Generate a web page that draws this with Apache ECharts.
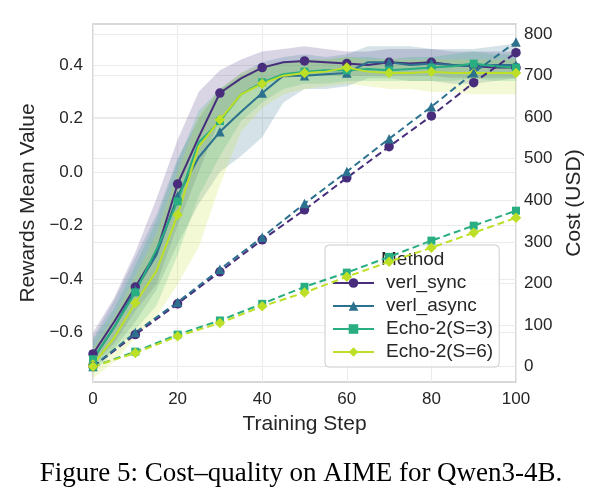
<!DOCTYPE html>
<html>
<head>
<meta charset="utf-8">
<script src="https://cdn.jsdelivr.net/npm/echarts@6/dist/echarts.min.js"></script>
<style>
html, body { margin: 0; padding: 0; background: #fff; }
#chart { width: 602px; height: 503px; }
</style>
</head>
<body>
<div id="chart"></div>
<script>
// training steps for reward curves (every 5 steps), cost points every 10
var steps = [0, 5, 10, 15, 20, 25, 30, 35, 40, 45, 50, 55, 60, 65, 70, 75, 80, 85, 90, 95, 100];
var costSteps = [0, 10, 20, 30, 40, 50, 60, 70, 80, 90, 100];
var methods = ['verl_sync', 'verl_async', 'Echo-2(S=3)', 'Echo-2(S=6)'];
var colors = ['#472d7b', '#2c718e', '#28ae80', '#bddf26'];
var symbols = ['circle', 'triangle', 'rect', 'diamond'];

// rewards mean value
var syncReward  = [-0.68, -0.56, -0.43, -0.30, -0.045, 0.13, 0.295, 0.35, 0.39, 0.41, 0.415, 0.41, 0.405, 0.40, 0.41, 0.405, 0.41, 0.40, 0.395, 0.39, 0.39];
var asyncReward = [-0.70, -0.58, -0.44, -0.31, -0.09, 0.055, 0.15, 0.225, 0.295, 0.36, 0.36, 0.365, 0.37, 0.41, 0.41, 0.40, 0.405, 0.40, 0.395, 0.40, 0.40];
var echo3Reward = [-0.70, -0.58, -0.45, -0.29, -0.11, 0.11, 0.19, 0.29, 0.335, 0.365, 0.375, 0.38, 0.38, 0.385, 0.38, 0.385, 0.39, 0.395, 0.405, 0.395, 0.39];
var echo6Reward = [-0.72, -0.62, -0.49, -0.37, -0.16, 0.095, 0.195, 0.29, 0.33, 0.36, 0.37, 0.375, 0.39, 0.375, 0.37, 0.37, 0.375, 0.37, 0.37, 0.37, 0.37];

// shaded band edges
var syncLow   = [-0.72, -0.64, -0.52, -0.42, -0.20, 0.00, 0.20, 0.29, 0.33, 0.35, 0.36, 0.36, 0.36, 0.36, 0.36, 0.36, 0.36, 0.35, 0.35, 0.35, 0.35];
var syncHigh  = [-0.60, -0.47, -0.30, -0.10, 0.12, 0.30, 0.38, 0.42, 0.45, 0.46, 0.47, 0.46, 0.45, 0.45, 0.46, 0.46, 0.46, 0.45, 0.45, 0.45, 0.45];
var asyncLow  = [-0.74, -0.66, -0.56, -0.44, -0.27, -0.12, 0.00, 0.06, 0.13, 0.26, 0.31, 0.31, 0.32, 0.35, 0.35, 0.34, 0.34, 0.33, 0.33, 0.34, 0.35];
var asyncHigh = [-0.62, -0.48, -0.32, -0.16, 0.05, 0.20, 0.31, 0.37, 0.41, 0.43, 0.44, 0.43, 0.44, 0.47, 0.47, 0.47, 0.46, 0.46, 0.46, 0.47, 0.48];
var echo3Low  = [-0.75, -0.67, -0.59, -0.50, -0.31, -0.09, 0.06, 0.19, 0.26, 0.31, 0.33, 0.33, 0.34, 0.34, 0.34, 0.34, 0.34, 0.34, 0.35, 0.34, 0.34];
var echo3High = [-0.63, -0.51, -0.35, -0.18, 0.04, 0.23, 0.31, 0.36, 0.39, 0.41, 0.42, 0.42, 0.43, 0.43, 0.42, 0.43, 0.43, 0.44, 0.45, 0.44, 0.44];
var echo6Low  = [-0.77, -0.71, -0.62, -0.54, -0.42, -0.28, -0.05, 0.15, 0.24, 0.29, 0.31, 0.32, 0.33, 0.32, 0.31, 0.31, 0.30, 0.30, 0.29, 0.29, 0.29];
var echo6High = [-0.66, -0.54, -0.39, -0.23, 0.00, 0.21, 0.31, 0.37, 0.40, 0.41, 0.42, 0.42, 0.43, 0.42, 0.42, 0.42, 0.42, 0.42, 0.42, 0.42, 0.42];

// cost (USD)
var syncCost  = [0, 77, 151, 228, 305, 377, 454, 529, 603, 683, 755];
var asyncCost = [0, 82, 155, 234, 311, 392, 469, 548, 625, 707, 781];
var echo3Cost = [0, 36, 77, 111, 151, 192, 226, 264, 303, 339, 375];
var echo6Cost = [0, 33, 73, 105, 145, 178, 216, 252, 286, 322, 358];

var leftTicks = [-0.6, -0.4, -0.2, 0.0, 0.2, 0.4];
var rightTicks = [0, 100, 200, 300, 400, 500, 600, 700, 800];
var xTicks = [0, 20, 40, 60, 80, 100];

var rewards = [syncReward, asyncReward, echo3Reward, echo6Reward];
var lows = [syncLow, asyncLow, echo3Low, echo6Low];
var highs = [syncHigh, asyncHigh, echo3High, echo6High];
var costs = [syncCost, asyncCost, echo3Cost, echo6Cost];

var font = 'Liberation Sans, Arial, sans-serif';
var tickColor = '#262626';

function pairs(xs, ys) {
  return xs.map(function (x, i) { return [x, ys[i]]; });
}
function markSize(k) {
  return symbols[k] === 'rect' ? 8 : (symbols[k] === 'diamond' ? 10.5 : 9.5);
}

var series = [];
methods.forEach(function (name, k) {
  // shaded band
  series.push({
    type: 'custom',
    name: name + ' band',
    clip: true,
    silent: true,
    z: 2,
    data: [[0, 0]],
    renderItem: function (params, api) {
      var pts = [];
      steps.forEach(function (s, i) { pts.push(api.coord([s, highs[k][i]])); });
      for (var i = steps.length - 1; i >= 0; i--) pts.push(api.coord([steps[i], lows[k][i]]));
      return { type: 'polygon', shape: { points: pts }, style: { fill: colors[k], opacity: 0.2 } };
    }
  });
});
methods.forEach(function (name, k) {
  series.push({
    type: 'line',
    name: name,
    yAxisIndex: 0,
    z: 3,
    data: pairs(steps, rewards[k]),
    symbol: symbols[k],
    showAllSymbol: true,
    symbolSize: function (v, p) { return p.dataIndex % 2 === 0 ? markSize(k) : 0; },
    lineStyle: { color: colors[k], width: 2 },
    itemStyle: { color: colors[k] },
    emphasis: { disabled: true }
  });
  series.push({
    type: 'line',
    name: name + ' cost',
    yAxisIndex: 1,
    z: 4,
    data: pairs(costSteps, costs[k]),
    symbol: symbols[k],
    symbolSize: markSize(k),
    lineStyle: { color: colors[k], width: 2, type: [7, 4] },
    itemStyle: { color: colors[k] },
    emphasis: { disabled: true }
  });
});

var chart = echarts.init(document.getElementById('chart'));
chart.setOption({
  animation: false,
  backgroundColor: '#fff',
  title: {
    text: 'Figure 5: Cost\u2013quality on AIME for Qwen3-4B.',
    left: 'center',
    top: 455,
    textStyle: { fontFamily: 'Liberation Serif, Times New Roman, serif', fontSize: 27, fontWeight: 'normal', color: '#000' }
  },
  grid: {
    left: 93, right: 86, top: 24, bottom: 121,
    show: true, borderColor: '#cccccc', borderWidth: 1.5, backgroundColor: 'transparent'
  },
  legend: {
    data: methods,
    orient: 'vertical',
    left: 325,
    top: 245,
    z: 1,
    selectedMode: false,
    padding: [28, 6, 5, 7],
    itemWidth: 41,
    itemHeight: 12,
    itemGap: 3,
    backgroundColor: 'rgba(255,255,255,0.8)',
    borderColor: '#cccccc',
    borderWidth: 1,
    borderRadius: 4,
    textStyle: { fontFamily: font, fontSize: 19, color: tickColor, lineHeight: 20, padding: [0, 0, 0, 7] }
  },
  graphic: [{
    type: 'text',
    left: 381,
    top: 250,
    z: 1,
    style: { text: 'Method', font: '19px ' + font, fill: tickColor }
  }],
  xAxis: {
    type: 'value',
    min: 0,
    max: 100,
    name: 'Training Step',
    nameLocation: 'middle',
    nameGap: 32,
    nameTextStyle: { fontFamily: font, fontSize: 21, color: tickColor },
    axisLine: { show: false },
    axisTick: { show: false, customValues: xTicks },
    axisLabel: { customValues: xTicks, fontFamily: font, fontSize: 17, color: tickColor, margin: 9 },
    splitLine: { show: true, lineStyle: { color: '#ebebeb', width: 1 } }
  },
  yAxis: [{
    type: 'value',
    min: -0.785,
    max: 0.553,
    name: 'Rewards Mean Value',
    nameLocation: 'middle',
    nameGap: 48,
    nameTextStyle: { fontFamily: font, fontSize: 21, color: tickColor },
    axisLine: { show: false },
    axisTick: { show: false, customValues: leftTicks },
    axisLabel: {
      customValues: leftTicks, fontFamily: font, fontSize: 17, color: tickColor, margin: 10,
      formatter: function (v) { return (v < -1e-9 ? '\u2212' : '') + Math.abs(v).toFixed(1); }
    },
    splitLine: { show: true, lineStyle: { color: '#ebebeb', width: 1 } }
  }, {
    type: 'value',
    min: -37,
    max: 824,
    position: 'right',
    name: 'Cost (USD)',
    nameLocation: 'middle',
    nameGap: 46,
    nameTextStyle: { fontFamily: font, fontSize: 21, color: tickColor },
    axisLine: { show: false },
    axisTick: { show: false, customValues: rightTicks },
    axisLabel: { customValues: rightTicks, fontFamily: font, fontSize: 17, color: tickColor, margin: 8 },
    splitLine: { show: true, lineStyle: { color: '#ebebeb', width: 1 } }
  }],
  series: series
});
</script>
</body>
</html>
